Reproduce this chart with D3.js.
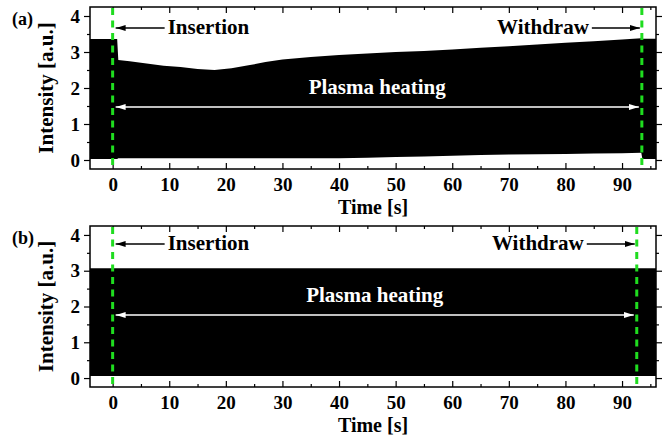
<!DOCTYPE html>
<html>
<head>
<meta charset="utf-8">
<script src="https://cdn.jsdelivr.net/npm/d3@7"></script>
<style>
  body { margin: 0; background: #fff; }
  svg text { font-family: "Liberation Serif", "Times New Roman", serif; font-weight: bold; }
</style>
</head>
<body>
<div id="chart"></div>
<script>
// tick values
const xTicks = [0, 10, 20, 30, 40, 50, 60, 70, 80, 90];
const xMinor = [5, 15, 25, 35, 45, 55, 65, 75, 85, 95];
const yTicks = [0, 1, 2, 3, 4];
const yMinor = [0.5, 1.5, 2.5, 3.5];

// (a) signal envelope: time [s], upper and lower edge [a.u.]
const timeA   = [-4, 0.8, 1.0, 3, 6, 9, 12, 15, 18, 21, 24, 27, 30, 35, 40, 45, 50, 55, 60, 65, 70, 75, 80, 85, 90, 93.4, 93.6, 96];
const upperA  = [3.36, 3.36, 2.78, 2.74, 2.68, 2.62, 2.58, 2.53, 2.50, 2.55, 2.63, 2.72, 2.79, 2.86, 2.92, 2.96, 3.00, 3.03, 3.07, 3.12, 3.16, 3.21, 3.26, 3.30, 3.35, 3.38, 3.37, 3.37];
const lowerA  = [0.03, 0.03, 0.05, 0.05, 0.05, 0.05, 0.05, 0.05, 0.05, 0.05, 0.05, 0.05, 0.05, 0.05, 0.05, 0.06, 0.08, 0.10, 0.12, 0.14, 0.15, 0.16, 0.17, 0.18, 0.19, 0.20, 0.03, 0.03];

// (b) signal envelope
const timeB   = [-4, 0, 30, 60, 93, 96];
const upperB  = [3.07, 3.07, 3.07, 3.07, 3.07, 3.07];
const lowerB  = [0.06, 0.06, 0.06, 0.06, 0.06, 0.06];

// insertion / withdraw times
const eventsA = [0, 93.5];
const eventsB = [0, 92.6];

const width = 662, height = 437;
const svg = d3.select('#chart').append('svg')
  .attr('width', width).attr('height', height);

const defs = svg.append('defs');
function marker(id, color) {
  defs.append('marker')
    .attr('id', id)
    .attr('viewBox', '0 0 10 6')
    .attr('refX', 10).attr('refY', 3)
    .attr('markerWidth', 10).attr('markerHeight', 6)
    .attr('markerUnits', 'userSpaceOnUse')
    .attr('orient', 'auto-start-reverse')
    .append('path').attr('d', 'M0,0L10,3L0,6Z').attr('fill', color);
}
marker('headK', '#000');
marker('headW', '#fff');

const x = d3.scaleLinear().domain([-4, 96]).range([90, 656]);

const panels = [
  { label: '(a)', top: 7, bottom: 169, t: timeA, hi: upperA, lo: lowerA, ev: eventsA,
    arrowY: 28, plasmaY: 107 },
  { label: '(b)', top: 226, bottom: 387, t: timeB, hi: upperB, lo: lowerB, ev: eventsB,
    arrowY: 244, plasmaY: 315 }
];

panels.forEach((p, pi) => {
  const y = d3.scaleLinear().domain([-0.25, 4.25]).range([p.bottom, p.top]);
  const g = svg.append('g');

  g.append('clipPath').attr('id', 'clip' + pi)
    .append('rect')
    .attr('x', x.range()[0]).attr('y', p.top)
    .attr('width', x.range()[1] - x.range()[0]).attr('height', p.bottom - p.top);

  const rows = p.t.map((t, i) => ({ t: t, hi: p.hi[i], lo: p.lo[i] }));
  const area = d3.area()
    .x(d => x(d.t))
    .y0(d => y(d.lo))
    .y1(d => y(d.hi));
  g.append('path')
    .datum(rows)
    .attr('clip-path', `url(#clip${pi})`)
    .attr('d', area)
    .attr('fill', '#000');

  // axes
  const noDomain = s => s.select('.domain').remove();
  g.append('g').attr('transform', `translate(${x.range()[0]},0)`)
    .call(d3.axisLeft(y).tickValues(yTicks).tickSize(6).tickPadding(4).tickFormat(d3.format('d')))
    .call(noDomain);
  g.append('g').attr('transform', `translate(${x.range()[0]},0)`)
    .call(d3.axisLeft(y).tickValues(yMinor).tickSize(3).tickFormat(''))
    .call(noDomain);
  g.append('g').attr('transform', `translate(${x.range()[1]},0)`)
    .call(d3.axisRight(y).tickValues(yTicks).tickSize(6).tickFormat(''))
    .call(noDomain);
  g.append('g').attr('transform', `translate(${x.range()[1]},0)`)
    .call(d3.axisRight(y).tickValues(yMinor).tickSize(3).tickFormat(''))
    .call(noDomain);
  g.append('g').attr('transform', `translate(0,${p.bottom})`)
    .call(d3.axisBottom(x).tickValues(xTicks).tickSizeInner(-6).tickSizeOuter(0).tickPadding(9))
    .call(noDomain);
  g.append('g').attr('transform', `translate(0,${p.bottom})`)
    .call(d3.axisBottom(x).tickValues(xMinor).tickSizeInner(-3).tickSizeOuter(0).tickFormat(''))
    .call(noDomain);
  g.append('g').attr('transform', `translate(0,${p.top})`)
    .call(d3.axisTop(x).tickValues(xTicks).tickSizeInner(-6).tickSizeOuter(0).tickFormat(''))
    .call(noDomain);
  g.append('g').attr('transform', `translate(0,${p.top})`)
    .call(d3.axisTop(x).tickValues(xMinor).tickSizeInner(-3).tickSizeOuter(0).tickFormat(''))
    .call(noDomain);
  g.selectAll('.tick line').attr('stroke', '#000').attr('stroke-width', 1.2);
  g.selectAll('.tick text').attr('font-size', 19).attr('fill', '#000')
    .style('font-family', '"Liberation Serif", serif').style('font-weight', 'bold');

  g.append('rect')
    .attr('x', x.range()[0]).attr('y', p.top)
    .attr('width', x.range()[1] - x.range()[0]).attr('height', p.bottom - p.top)
    .attr('fill', 'none').attr('stroke', '#000').attr('stroke-width', 1.5);

  // green dashed markers
  g.selectAll('.ev').data(p.ev).enter().append('line')
    .attr('x1', d => x(d)).attr('x2', d => x(d))
    .attr('y1', p.top + 1).attr('y2', p.bottom)
    .attr('stroke', '#1fdc1f').attr('stroke-width', 3)
    .attr('stroke-dasharray', '7,5.5');

  // annotations
  const x0 = x(p.ev[0]), x1 = x(p.ev[1]);
  g.append('line')
    .attr('x1', x0 + 52).attr('x2', x0 + 3)
    .attr('y1', p.arrowY).attr('y2', p.arrowY)
    .attr('stroke', '#000').attr('stroke-width', 1.5)
    .attr('marker-end', 'url(#headK)');
  g.append('text').attr('x', x0 + 55).attr('y', p.arrowY + 6)
    .attr('font-size', 21).text('Insertion');

  g.append('line')
    .attr('x1', x1 - 50).attr('x2', x1 - 2)
    .attr('y1', p.arrowY).attr('y2', p.arrowY)
    .attr('stroke', '#000').attr('stroke-width', 1.5)
    .attr('marker-end', 'url(#headK)');
  g.append('text').attr('x', x1 - 53).attr('y', p.arrowY + 6)
    .attr('text-anchor', 'end').attr('font-size', 21).text('Withdraw');

  g.append('line')
    .attr('x1', x0 + 3).attr('x2', x1 - 3)
    .attr('y1', p.plasmaY).attr('y2', p.plasmaY)
    .attr('stroke', '#fff').attr('stroke-width', 1.5)
    .attr('marker-start', 'url(#headW)')
    .attr('marker-end', 'url(#headW)');
  g.append('text').attr('x', (x0 + x1) / 2).attr('y', p.plasmaY - 13)
    .attr('text-anchor', 'middle').attr('font-size', 21).attr('fill', '#fff')
    .text('Plasma heating');

  // labels
  g.append('text').attr('x', 12).attr('y', p.top + 18)
    .attr('font-size', 18).text(p.label);
  g.append('text')
    .attr('transform', `translate(53,${(p.top + p.bottom) / 2}) rotate(-90)`)
    .attr('text-anchor', 'middle').attr('font-size', 21)
    .text('Intensity [a.u.]');
  g.append('text').attr('x', (x.range()[0] + x.range()[1]) / 2)
    .attr('y', p.bottom + 45).attr('text-anchor', 'middle').attr('font-size', 20)
    .text('Time [s]');
});
</script>
</body>
</html>
